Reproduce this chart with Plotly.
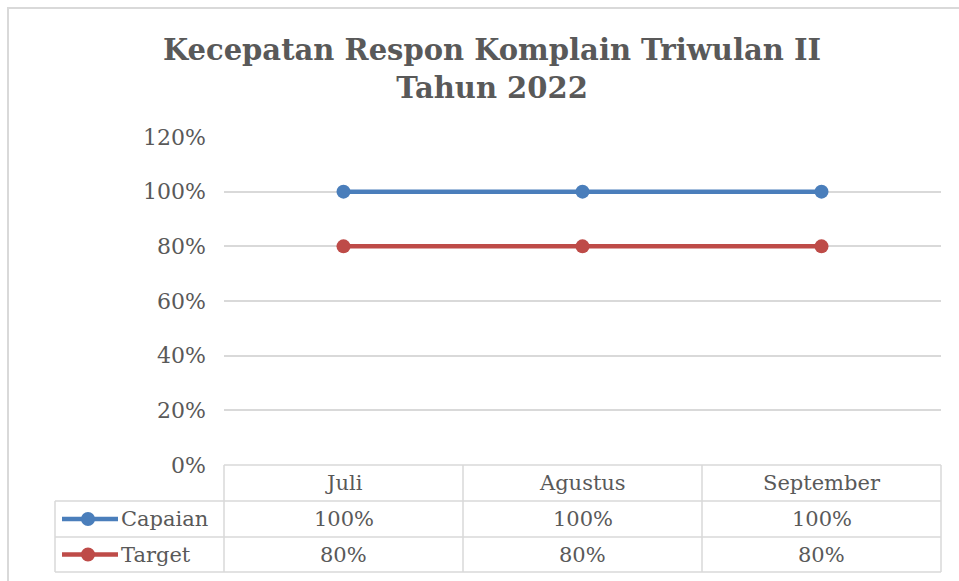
import plotly.graph_objects as go

categories = ["Juli", "Agustus", "September"]
capaian = [1.00, 1.00, 1.00]
target = [0.80, 0.80, 0.80]
series_names = ["Capaian", "Target"]
series_values = [capaian, target]
series_colors = ["#4a7ebb", "#be4b48"]
y_ticks = [0, 0.2, 0.4, 0.6, 0.8, 1.0, 1.2]
y_tick_labels = ["0%", "20%", "40%", "60%", "80%", "100%", "120%"]
title_text = "Kecepatan Respon Komplain Triwulan II<br>Tahun 2022"

W, H = 959, 581
L, R, T, B = 224, 941, 137, 465
FONT = "DejaVu Serif"
TXT = "#595959"
GRID = "#d9d9d9"


def px(x):
    return (x - L) / (R - L)


def py(y):
    return (B - y) / (B - T)


fig = go.Figure()
for name, vals, col in zip(series_names, series_values, series_colors):
    fig.add_trace(go.Scatter(
        x=categories, y=vals, name=name, mode="lines+markers",
        line=dict(color=col, width=4.5),
        marker=dict(color=col, size=14),
        showlegend=False,
    ))

shapes = []
annotations = []

# outer chart border (top and left)
shapes.append(dict(type="line", xref="paper", yref="paper", x0=px(7), x1=px(959),
                   y0=py(8), y1=py(8), line=dict(color=GRID, width=2)))
shapes.append(dict(type="line", xref="paper", yref="paper", x0=px(8), x1=px(8),
                   y0=py(7), y1=py(581), line=dict(color=GRID, width=2)))

# data table
row_y = [465, 501, 537, 572]
table_left = 55
col_x = [L + i * (R - L) / len(categories) for i in range(len(categories) + 1)]
line_style = dict(color=GRID, width=1.5)
shapes.append(dict(type="line", xref="paper", yref="paper", x0=px(L), x1=px(R),
                   y0=py(row_y[0]), y1=py(row_y[0]), line=line_style))
for yy in row_y[1:]:
    shapes.append(dict(type="line", xref="paper", yref="paper", x0=px(table_left), x1=px(R),
                       y0=py(yy), y1=py(yy), line=line_style))
for xx in col_x:
    shapes.append(dict(type="line", xref="paper", yref="paper", x0=px(xx), x1=px(xx),
                       y0=py(row_y[0]), y1=py(row_y[-1]), line=line_style))
shapes.append(dict(type="line", xref="paper", yref="paper", x0=px(table_left), x1=px(table_left),
                   y0=py(row_y[1]), y1=py(row_y[-1]), line=line_style))

cell_font = dict(family=FONT, size=21, color=TXT)
for c in categories:
    annotations.append(dict(x=c, xref="x", y=py((row_y[0] + row_y[1]) / 2), yref="paper",
                            text=c, showarrow=False, xanchor="center", yanchor="middle",
                            font=cell_font))
for i, (name, vals, col) in enumerate(zip(series_names, series_values, series_colors)):
    yc = (row_y[i + 1] + row_y[i + 2]) / 2
    for c, v in zip(categories, vals):
        annotations.append(dict(x=c, xref="x", y=py(yc), yref="paper",
                                text=f"{v * 100:.0f}%", showarrow=False,
                                xanchor="center", yanchor="middle", font=cell_font))
    shapes.append(dict(type="line", xref="paper", yref="paper", x0=px(62), x1=px(118),
                       y0=py(yc), y1=py(yc), line=dict(color=col, width=4.5)))
    shapes.append(dict(type="circle", xref="paper", yref="paper", x0=px(81), x1=px(95),
                       y0=py(yc + 7), y1=py(yc - 7), fillcolor=col, line=dict(width=0)))
    annotations.append(dict(x=px(119), xref="paper", y=py(yc), yref="paper", text=name,
                            showarrow=False, xanchor="left", yanchor="middle",
                            font=cell_font))

fig.update_layout(
    width=W, height=H,
    margin=dict(l=L, r=W - R, t=T, b=H - B),
    paper_bgcolor="white", plot_bgcolor="white",
    title=dict(text=title_text, x=492 / W, xanchor="center", y=1 - 60 / H, yanchor="middle",
               font=dict(family=FONT, size=29, color=TXT, weight="bold")),
    xaxis=dict(type="category", range=[-0.5, 2.5], showticklabels=False, showgrid=False,
               zeroline=False, showline=False),
    yaxis=dict(range=[0, 1.2], tickvals=y_ticks, ticktext=y_tick_labels,
               showgrid=True, gridcolor=GRID, gridwidth=1.5, zeroline=False,
               tickfont=dict(family=FONT, size=22, color=TXT), ticks="", ticklabelstandoff=17),
    shapes=shapes, annotations=annotations,
)

fig.write_html("out.html", config={"displayModeBar": False},
               post_script="document.body.style.margin='0';")
